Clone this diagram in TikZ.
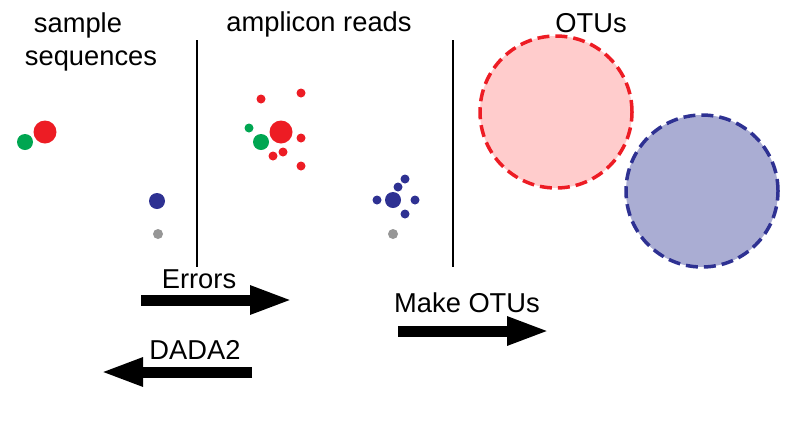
\documentclass[tikz,border=0pt]{standalone}
\usepackage{fontspec}
\setmainfont{Liberation Sans}
\usetikzlibrary{arrows.meta}

\definecolor{seqred}{RGB}{237,28,36}
\definecolor{seqgreen}{RGB}{0,166,81}
\definecolor{seqblue}{RGB}{46,49,146}
\definecolor{seqgray}{RGB}{150,150,150}
\definecolor{otured}{RGB}{255,204,204}
\definecolor{otublue}{RGB}{170,173,211}

\tikzset{
  seq/.style={circle, inner sep=0pt, minimum size=#1},
  big/.style={seq=23pt},
  mid/.style={seq=16pt},
  small/.style={seq=9pt},
  caption/.style={font=\fontsize{27.3}{30}\selectfont, anchor=base, inner sep=0pt},
  fat arrow/.style={line width=11pt, -{Triangle[length=43pt, width=26pt]}},
  otu/.style={circle, draw, line width=3.5pt, dash pattern=on 12pt off 6pt,
    minimum size=152pt, inner sep=0pt}
}

\begin{document}
\begin{tikzpicture}[x=1pt, y=-1pt]
  \useasboundingbox (0, 0) rectangle (799, 429);

  % column headings
  \node[caption] (sample) at (78, 32) {sample};
  \node[caption] (sequences) at (91, 65) {sequences};
  \node[caption] (reads) at (319, 31) {amplicon reads};
  \node[caption] (otus) at (591, 32) {OTUs};

  % separators
  \coordinate (sepa top) at (197, 40);
  \coordinate (sepa bot) at (197, 267);
  \coordinate (sepb top) at (453, 40);
  \coordinate (sepb bot) at (453, 267);
  \draw[line width=2.5pt] (sepa top) -- (sepa bot);
  \draw[line width=2.5pt] (sepb top) -- (sepb bot);

  % sample sequences
  \begin{scope}
    \node[big, fill=seqred] (s red) at (45, 132) {};
    \node[mid, fill=seqgreen] (s green) at (25, 142) {};
    \node[mid, fill=seqblue] (s blue) at (157, 201) {};
    \node[seq=10pt, fill=seqgray] (s gray) at (158, 234) {};
  \end{scope}

  % amplicon reads
  \begin{scope}
    \node[big, fill=seqred] (r red) at (281, 132) {};
    \node[mid, fill=seqgreen] (r green) at (261, 142) {};
    \node[small, fill=seqgreen] (r green a) at (249, 128) {};
    \foreach \px/\py [count=\i] in {261/99, 301/93, 301/138, 283/152, 273/156, 301/166}
      \node[small, fill=seqred] (r red \i) at (\px, \py) {};

    \node[mid, fill=seqblue] (r blue) at (393, 200) {};
    \foreach \px/\py [count=\i] in {377/200, 398/187, 405/179, 415/200, 405/214}
      \node[small, fill=seqblue] (r blue \i) at (\px, \py) {};
    \node[seq=10pt, fill=seqgray] (r gray) at (393, 234) {};
  \end{scope}

  % OTUs
  \node[otu, fill=otured, draw=seqred] (otu red) at (556, 112) {};
  \node[otu, fill=otublue, draw=seqblue] (otu blue) at (702, 191) {};

  % arrows
  \coordinate (err start) at (141, 300);
  \coordinate (err end) at (293, 300);
  \draw[fat arrow] (err start) -- (err end);
  \node[caption] (errors) at (199, 288) {Errors};

  \coordinate (dada start) at (252, 372);
  \coordinate (dada end) at (100, 372);
  \draw[fat arrow] (dada start) -- (dada end);
  \node[caption] (dada) at (195, 359) {DADA2};

  \coordinate (otu start) at (398, 331);
  \coordinate (otu end) at (550, 331);
  \draw[fat arrow] (otu start) -- (otu end);
  \node[caption] (make) at (467, 312) {Make OTUs};
\end{tikzpicture}
\end{document}
